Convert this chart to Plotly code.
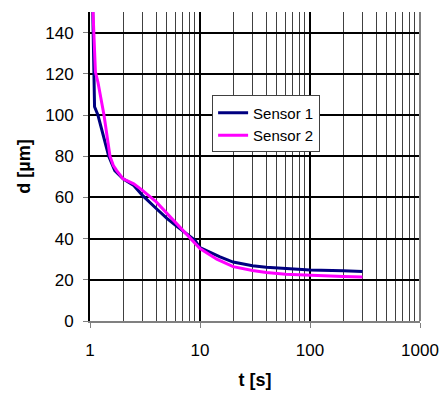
import plotly.graph_objects as go

t1 = [1.06, 1.08, 1.10, 1.18, 1.34, 1.48, 1.68, 2.0, 2.5, 3, 4, 5, 6, 7, 8, 9, 10, 12.3, 15.2, 20, 30, 40, 60, 100, 200, 300]
d1 = [150, 120, 104, 100, 89, 80, 73, 69, 65.8, 61, 54.6, 49.8, 46.5, 43.7, 41.6, 39.2, 35.6, 33.4, 31.1, 28.6, 26.8, 26.1, 25.5, 24.8, 24.4, 24.0]
t2 = [1.065, 1.12, 1.18, 1.34, 1.52, 1.63, 1.75, 2.0, 2.5, 3, 4, 5, 6, 7, 8, 9, 10, 14.2, 20, 30, 40, 60, 100, 200, 300]
d2 = [150, 121, 116, 100, 80, 75.5, 73, 69, 66.6, 63.4, 57.8, 52.2, 48.1, 44, 40.8, 37.5, 35.2, 30, 26.4, 24.5, 23.5, 22.7, 22.1, 21.6, 21.3]

x_ticks = [1, 10, 100, 1000]
x_labels = ["1", "10", "100", "1000"]
y_ticks = [0, 20, 40, 60, 80, 100, 120, 140]

fig = go.Figure()
fig.add_trace(go.Scatter(x=t1, y=d1, mode="lines", name="Sensor 1",
                         line=dict(color="#000080", width=3)))
fig.add_trace(go.Scatter(x=t2, y=d2, mode="lines", name="Sensor 2",
                         line=dict(color="#FF00FF", width=3)))

font = "Arial, Liberation Sans, sans-serif"
fig.update_layout(
    width=442, height=394,
    margin=dict(l=90, r=22, t=12, b=73, autoexpand=False),
    paper_bgcolor="white", plot_bgcolor="white",
    font=dict(family=font, size=17, color="black"),
    showlegend=True,
    legend=dict(x=0.37, y=0.73, xanchor="left", yanchor="top",
                bgcolor="white", bordercolor="#404040", borderwidth=1,
                font=dict(size=15), itemwidth=30, tracegroupgap=0),
    xaxis=dict(type="log", range=[0, 3], tickvals=x_ticks, ticktext=x_labels,
               automargin=False,
               showline=True, linecolor="#808080", linewidth=2,
               ticks="outside", ticklen=5, tickcolor="#808080", tickwidth=1,
               ticklabelstandoff=8,
               showgrid=True, gridcolor="black", gridwidth=2,
               minor=dict(dtick="D1", showgrid=True, gridcolor="#404040", gridwidth=1, ticks=""),
               title=dict(text="<b>t [s]</b>", font=dict(size=18), standoff=14),
               zeroline=False),
    yaxis=dict(range=[0, 150], tickvals=y_ticks,
               automargin=False,
               showline=True, linecolor="black", linewidth=2,
               ticks="outside", ticklen=5, tickcolor="#808080",
               ticklabelstandoff=6,
               showgrid=True, gridcolor="black", gridwidth=2,
               title=dict(text="<b>d [µm]</b>", font=dict(size=18), standoff=10),
               zeroline=False),
)
fig.add_shape(type="line", xref="paper", yref="paper", x0=1, x1=1, y0=0, y1=1,
              line=dict(color="#808080", width=2))
fig.write_html("out.html")
